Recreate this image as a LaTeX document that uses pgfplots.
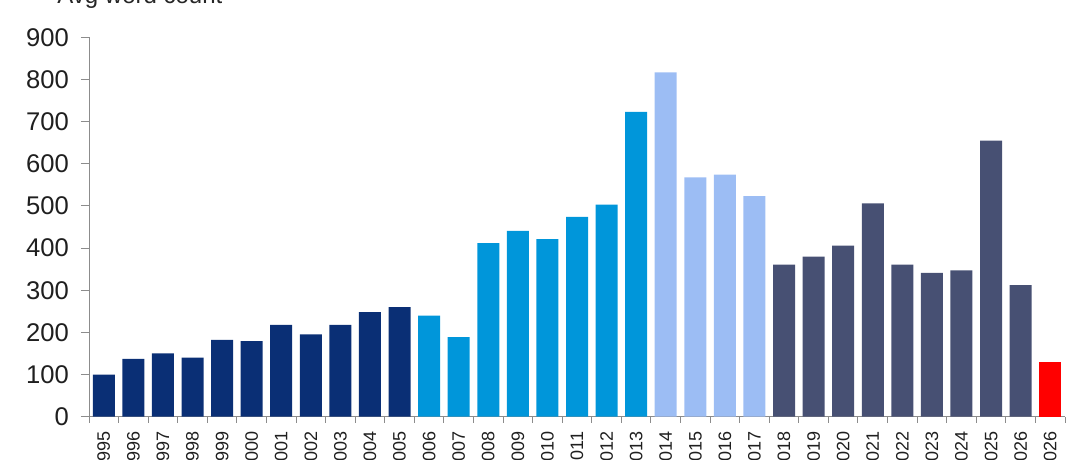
\documentclass[border=0pt]{standalone}
\usepackage{fontspec}
\setmainfont{Liberation Sans}
\usepackage{pgfplots}
\pgfplotsset{compat=1.18}
\definecolor{cnavy}{HTML}{0A2F75}
\definecolor{cmid}{HTML}{0096DA}
\definecolor{clight}{HTML}{9CBDF4}
\definecolor{cslate}{HTML}{475073}
\definecolor{cred}{HTML}{FF0000}
\definecolor{caxis}{HTML}{8C8C8C}
\begin{document}
\begin{tikzpicture}
\useasboundingbox (0,0) rectangle (540bp,230bp);
\begin{scope}
\clip (0,0) rectangle (540bp,230bp);
\node[anchor=base west, inner sep=0pt, text=black!85, font=\fontsize{12bp}{14bp}\selectfont] at (28.5bp,228.3bp) {Avg word count};
\begin{axis}[
  at={(44.5bp,21.65bp)}, anchor=south west,
  scale only axis, width=488bp, height=189.7bp,
  xmin=-0.5, xmax=32.5, ymin=0, ymax=900,
  axis x line*=bottom, axis y line*=left,
  axis line style={draw=caxis, line width=0.5pt},
  every tick/.style={draw=caxis, line width=0.5pt},
  tick align=outside,
  ytick={0,100,...,900},
  major tick length=4bp,
  minor tick length=3bp,
  xtick={0,...,32},
  major x tick style={draw=none},
  minor xtick={-0.5,0.5,...,32.5},
  xticklabels={1995,1996,1997,1998,1999,2000,2001,2002,2003,2004,2005,2006,2007,2008,2009,2010,2011,2012,2013,2014,2015,2016,2017,2018,2019,2020,2021,2022,2023,2024,2025,2026,2026},
  /pgf/number format/assume math mode=true,
  /pgf/number format/1000 sep={},
  yticklabel style={font=\fontsize{12.8bp}{15bp}\selectfont, text=black!88, xshift=-2.5bp},
  xticklabel style={font=\fontsize{9bp}{11bp}\selectfont, text=black!88, rotate=90, anchor=east},
  clip=false,
]
\addplot[ybar, bar width=11bp, bar shift=0pt, fill=cnavy, draw=none] coordinates {
(0,100) (1,137) (2,150) (3,140) (4,182) (5,179) (6,218) (7,195) (8,218) (9,248) (10,260)};
\addplot[ybar, bar width=11bp, bar shift=0pt, fill=cmid, draw=none] coordinates {
(11,240) (12,189) (13,412) (14,441) (15,421) (16,474) (17,503) (18,723)};
\addplot[ybar, bar width=11bp, bar shift=0pt, fill=clight, draw=none] coordinates {
(19,817) (20,568) (21,574) (22,523)};
\addplot[ybar, bar width=11bp, bar shift=0pt, fill=cslate, draw=none] coordinates {
(23,361) (24,380) (25,406) (26,506) (27,361) (28,341) (29,347) (30,655) (31,312)};
\addplot[ybar, bar width=11bp, bar shift=0pt, fill=cred, draw=none] coordinates {
(32,130)};
\end{axis}
\end{scope}
\end{tikzpicture}
\end{document}
